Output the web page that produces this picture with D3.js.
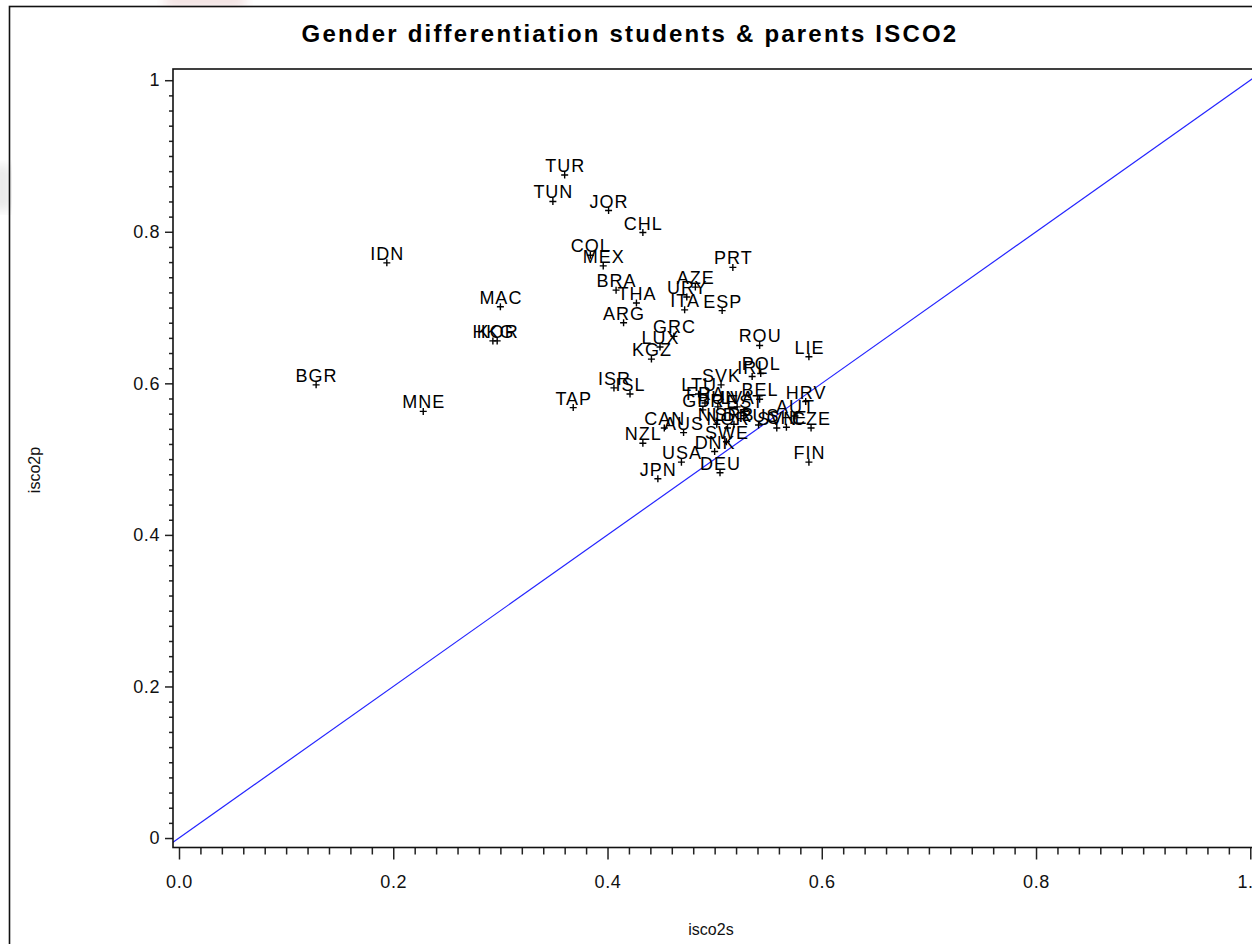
<!DOCTYPE html>
<html>
<head>
<meta charset="utf-8">
<script src="https://cdn.jsdelivr.net/npm/d3@7"></script>
<style>
  body { margin: 0; background: #fff; }
  svg { display: block; font-family: "Liberation Sans", Arial, sans-serif; }
</style>
</head>
<body>
<svg id="scatter"></svg>
<script>
// country codes and their values
const codes = ["TUR","TUN","JOR","CHL","COL","MEX","IDN","PRT","BRA","THA",
  "AZE","URY","ITA","ESP","MAC","ARG","HKG","KOR","GRC","LUX",
  "KGZ","ROU","LIE","BGR","IRL","POL","SVK","ISR","ISL","LTU",
  "BEL","HRV","MNE","TAP","CAN","AUS","NZL","USA","JPN","DEU",
  "DNK","FIN","SWE","NLD","NOR","GBR","FRA","HUN","LVA","SRB",
  "EST","RUS","SVN","AUT","CZE","CHE"];

const isco2s = [0.360,0.349,0.401,0.433,0.384,0.396,0.194,0.517,0.408,0.427,
  0.482,0.474,0.472,0.507,0.300,0.415,0.293,0.297,0.462,0.449,
  0.441,0.542,0.588,0.128,0.535,0.543,0.506,0.406,0.421,0.485,
  0.542,0.585,0.228,0.368,0.453,0.471,0.433,0.469,0.447,0.505,
  0.500,0.588,0.511,0.502,0.512,0.489,0.491,0.503,0.521,0.518,
  0.528,0.541,0.558,0.575,0.590,0.567];

const isco2p = [0.875,0.840,0.828,0.799,0.769,0.755,0.759,0.753,0.723,0.706,
  0.727,0.714,0.697,0.696,0.701,0.680,0.656,0.656,0.662,0.648,
  0.632,0.650,0.635,0.598,0.609,0.613,0.598,0.594,0.586,0.586,
  0.579,0.576,0.563,0.568,0.541,0.535,0.521,0.496,0.474,0.482,
  0.510,0.496,0.523,0.546,0.541,0.565,0.574,0.569,0.569,0.546,
  0.563,0.545,0.541,0.557,0.541,0.542];

const xTicks = [0, 0.2, 0.4, 0.6, 0.8, 1.0];
const xTickLabels = ["0.0", "0.2", "0.4", "0.6", "0.8", "1.0"];
const yTicks = [0, 0.2, 0.4, 0.6, 0.8, 1.0];
const yTickLabels = ["0", "0.2", "0.4", "0.6", "0.8", "1"];

const title = "Gender differentiation students & parents ISCO2";

const width = 1252;
const height = 944;
const plot = {left: 173, top: 69, right: 1258, bottom: 847.5};

const svg = d3.select("#scatter")
  .attr("width", width)
  .attr("height", height);

// faint smudges of page background outside the frame
const defs = svg.append("defs");
defs.append("filter").attr("id", "soft")
  .append("feGaussianBlur").attr("stdDeviation", 6);
svg.append("rect").attr("x", -6).attr("y", 165).attr("width", 16).attr("height", 45)
  .attr("fill", "#dcdcdc").attr("filter", "url(#soft)");
svg.append("rect").attr("x", 165).attr("y", -6).attr("width", 80).attr("height", 12)
  .attr("fill", "#f0dada").attr("filter", "url(#soft)");
svg.append("rect").attr("x", 0).attr("y", 0).attr("width", 9).attr("height", height)
  .attr("fill", "#fff").attr("opacity", 0.3);

// outer frame
svg.append("rect")
  .attr("x", 9.5).attr("y", 6.5)
  .attr("width", 1300).attr("height", 1000)
  .attr("fill", "none")
  .attr("stroke", "#111")
  .attr("stroke-width", 1.6);

const x = d3.scaleLinear()
  .domain([-0.0056, 1.0072])
  .range([plot.left, plot.right]);

const y = d3.scaleLinear()
  .domain([-0.0125, 1.0148])
  .range([plot.bottom, plot.top]);

// title
svg.append("text")
  .attr("x", 630)
  .attr("y", 42)
  .attr("text-anchor", "middle")
  .attr("font-weight", "bold")
  .attr("font-size", "24px")
  .attr("letter-spacing", "2.2px")
  .attr("fill", "#000")
  .text(title);

// minor ticks every 0.02
const minor = d3.range(0, 51).map(i => i / 50).filter(v => Math.round(v * 50) % 10 !== 0);

const xMinor = d3.axisBottom(x).tickValues(minor).tickSize(7).tickFormat("");
const yMinor = d3.axisLeft(y).tickValues(minor).tickSize(4).tickFormat("");

const xAxis = d3.axisBottom(x)
  .tickValues(xTicks)
  .tickSize(12)
  .tickPadding(16)
  .tickFormat((d, i) => xTickLabels[i]);

const yAxis = d3.axisLeft(y)
  .tickValues(yTicks)
  .tickSize(8)
  .tickPadding(5)
  .tickFormat((d, i) => yTickLabels[i]);

function styleAxis(sel) {
  sel.select(".domain").remove();
  sel.selectAll("line").attr("stroke", "#222").attr("stroke-width", 1.5);
  sel.selectAll("text")
    .attr("font-size", "18px")
    .attr("letter-spacing", "0.6px")
    .attr("font-family", "Liberation Sans, Arial, sans-serif")
    .attr("fill", "#111");
}

svg.append("g").attr("transform", `translate(0,${plot.bottom})`).call(xMinor).call(styleAxis);
svg.append("g").attr("transform", `translate(0,${plot.bottom})`).call(xAxis).call(styleAxis);
svg.append("g").attr("transform", `translate(${plot.left},0)`).call(yMinor).call(styleAxis);
svg.append("g").attr("transform", `translate(${plot.left},0)`).call(yAxis).call(styleAxis);

// axis titles
svg.append("text")
  .attr("x", 711)
  .attr("y", 935)
  .attr("text-anchor", "middle")
  .attr("font-size", "16px")
  .attr("fill", "#111")
  .text("isco2s");

svg.append("text")
  .attr("transform", "translate(40,470) rotate(-90)")
  .attr("text-anchor", "middle")
  .attr("font-size", "16px")
  .attr("fill", "#111")
  .text("isco2p");

// clip for things drawn inside the plot area
svg.append("clipPath").attr("id", "plotclip")
  .append("rect")
  .attr("x", plot.left).attr("y", plot.top)
  .attr("width", plot.right - plot.left)
  .attr("height", plot.bottom - plot.top);

const g = svg.append("g").attr("clip-path", "url(#plotclip)");

// diagonal y = x
g.append("line")
  .attr("x1", x(-0.02)).attr("y1", y(-0.02))
  .attr("x2", x(1.1)).attr("y2", y(1.1))
  .attr("stroke", "#2424ff")
  .attr("stroke-width", 1.2);

const data = codes.map((c, i) => ({code: c, s: isco2s[i], p: isco2p[i]}));

// plus markers
g.selectAll(".mark")
  .data(data)
  .enter()
  .append("path")
  .attr("class", "mark")
  .attr("d", d => {
    const cx = x(d.s), cy = y(d.p);
    return `M${cx - 3.5},${cy}H${cx + 3.5}M${cx},${cy - 3.5}V${cy + 3.5}`;
  })
  .attr("stroke", "#000")
  .attr("stroke-width", 1.4)
  .attr("fill", "none");

// labels sitting just above each marker
g.selectAll(".lbl")
  .data(data)
  .enter()
  .append("text")
  .attr("class", "lbl")
  .attr("x", d => x(d.s) + 0.5)
  .attr("y", d => y(d.p) - 3)
  .attr("text-anchor", "middle")
  .attr("font-size", "18px")
  .attr("letter-spacing", "1px")
  .attr("fill", "#000")
  .text(d => d.code);

// plot frame
svg.append("rect")
  .attr("x", plot.left).attr("y", plot.top)
  .attr("width", plot.right - plot.left)
  .attr("height", plot.bottom - plot.top)
  .attr("fill", "none")
  .attr("stroke", "#111")
  .attr("stroke-width", 1.6);
</script>
</body>
</html>
